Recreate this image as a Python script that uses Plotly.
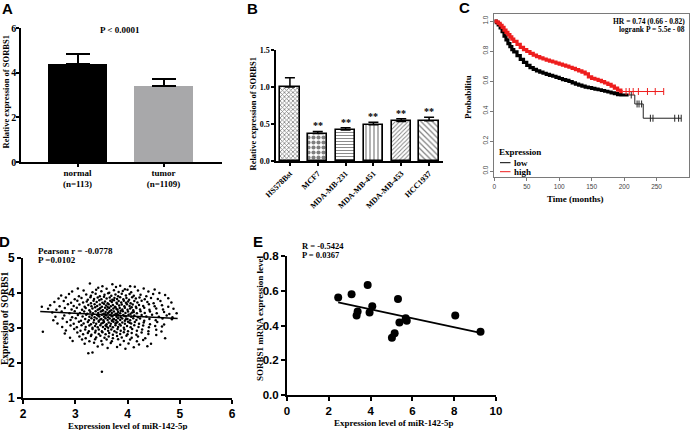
import numpy as np
import plotly.graph_objects as go

W, H = 690, 430
def px(x): return x / W
def py(y): return 1 - y / H

SERIF = "Liberation Serif"
SANS = "Liberation Sans"

# ---------------- Panel A ----------------
a_groups = ["normal<br>(n=113)", "tumor<br>(n=1109)"]
a_means = [4.4, 3.4]
a_err = [0.42, 0.32]
a_colors = ["#000000", "#a8a8aa"]
a_ticks = [0, 2, 4, 6]

# ---------------- Panel B ----------------
b_lines = ["HS578Bst", "MCF7", "MDA-MB-231", "MDA-MB-451", "MDA-MB-453", "HCC1937"]
b_means = [1.0, 0.37, 0.42, 0.49, 0.535, 0.545]
b_err = [0.125, 0.03, 0.03, 0.035, 0.035, 0.045]
b_sig = ["", "**", "**", "**", "**", "**"]
b_shapes = ["x", ".", "-", "|", "/", "\\"]
b_psize = [3, 5, 3, 4, 3, 4]
b_solid = [0.45, 0.55, 0.3, 0.3, 0.3, 0.3]

# ---------------- Panel C (Kaplan-Meier) ----------------
km_low_t = [0, 3, 6, 9, 12, 15, 18, 21, 24, 27, 30, 35, 40, 45, 50, 55, 60, 65, 70, 75, 80, 85, 90,
            95, 100, 105, 110, 115, 120, 125, 130, 135, 140, 145, 150, 155, 160, 165, 170, 175,
            180, 185, 190, 195, 200, 207]
km_low_s = [1.0, 0.99, 0.975, 0.955, 0.93, 0.90, 0.875, 0.85, 0.83, 0.81, 0.795, 0.77, 0.745,
            0.725, 0.705, 0.69, 0.678, 0.668, 0.66, 0.652, 0.645, 0.638, 0.632, 0.625, 0.617,
            0.61, 0.604, 0.597, 0.588, 0.58, 0.573, 0.566, 0.56, 0.556, 0.551, 0.546, 0.542,
            0.537, 0.532, 0.527, 0.521, 0.516, 0.51, 0.507, 0.507, 0.507]
km_low_tail_t = [207, 216.5, 229.5, 288]
km_low_tail_s = [0.507, 0.447, 0.352, 0.352]
km_low_cens = [211, 220, 223, 227, 240.5, 244.5, 278, 284, 288]

km_high_t = [0, 3, 6, 9, 12, 15, 18, 21, 24, 27, 30, 35, 40, 45, 50, 55, 60, 65, 70, 75, 80, 85,
             90, 95, 100, 105, 110, 115, 120, 125, 130, 135, 140, 145, 150, 155, 160, 165, 170,
             175, 180, 185, 190, 195, 198]
km_high_s = [1.0, 0.995, 0.985, 0.972, 0.958, 0.94, 0.925, 0.91, 0.895, 0.88, 0.865, 0.845,
             0.825, 0.81, 0.797, 0.785, 0.773, 0.763, 0.755, 0.747, 0.74, 0.733, 0.727, 0.72,
             0.713, 0.706, 0.699, 0.692, 0.684, 0.676, 0.668, 0.66, 0.648, 0.628, 0.618, 0.612,
             0.604, 0.596, 0.587, 0.578, 0.566, 0.553, 0.54, 0.53, 0.53]
km_high_tail_t = [198, 261]
km_high_tail_s = [0.53, 0.53]
km_high_cens = [203, 208, 214, 222, 236, 248, 261]

# ---------------- Panel D (scatter, n=1109 read approx.) ----------------
d_pts = [
 (3.28,4.27),(3.71,4.25),(3.86,4.21),(4.05,4.19),
 (3.05,4.13),(3.44,4.15),(3.6,4.12),(3.78,4.17),(3.95,4.11),(4.14,4.18),(4.31,4.13),(4.52,4.1),(3.52,4.19),
 (2.94,4.04),(3.16,4.07),(3.33,4.02),(3.5,4.05),(3.65,4.01),(3.74,4.08),(3.83,4.03),(3.91,4.06),(4.07,4.02),
 (4.2,4.07),(4.4,4.04),(4.61,4.0),(3.4,4.09),(4.0,4.09),
 (2.73,3.93),(2.88,3.97),(3.07,3.91),(3.21,3.96),(3.3,3.92),(3.39,3.98),(3.47,3.91),(3.56,3.95),(3.63,3.99),
 (3.69,3.92),(3.77,3.96),(3.82,3.91),(3.89,3.98),(3.97,3.93),(4.04,3.97),(4.12,3.92),(4.25,3.95),(4.36,3.91),
 (4.49,3.97),(4.72,3.94),
 (2.68,3.84),(2.82,3.87),(2.99,3.82),(3.12,3.86),(3.24,3.81),(3.29,3.88),(3.36,3.83),(3.43,3.87),(3.5,3.82),
 (3.55,3.89),(3.6,3.84),(3.66,3.87),(3.71,3.81),(3.75,3.86),(3.8,3.83),(3.86,3.88),(3.92,3.82),(3.98,3.86),
 (4.03,3.81),(4.09,3.88),(4.16,3.84),(4.23,3.87),(4.33,3.82),(4.45,3.86),(4.58,3.83),(4.78,3.85),
 (2.6,3.74),(2.78,3.77),(2.92,3.72),(3.04,3.78),(3.15,3.73),(3.22,3.76),(3.3,3.71),(3.35,3.78),(3.41,3.74),
 (3.46,3.79),(3.52,3.72),(3.57,3.76),(3.62,3.71),(3.67,3.78),(3.7,3.74),(3.74,3.79),(3.79,3.72),(3.83,3.77),
 (3.88,3.73),(3.93,3.78),(3.97,3.72),(4.01,3.76),(4.06,3.71),(4.13,3.77),(4.19,3.73),(4.27,3.78),(4.38,3.74),
 (4.5,3.71),(4.63,3.77),(4.84,3.73),
 (2.36,3.61),(2.52,3.65),(2.7,3.62),(2.86,3.68),(2.97,3.63),(3.08,3.67),(3.18,3.61),(3.25,3.66),(3.31,3.62),
 (3.37,3.68),(3.42,3.63),(3.47,3.67),(3.51,3.61),(3.55,3.69),(3.59,3.64),(3.64,3.68),(3.68,3.62),(3.72,3.66),
 (3.76,3.61),(3.8,3.69),(3.84,3.64),(3.89,3.67),(3.94,3.62),(3.99,3.68),(4.04,3.63),(4.1,3.67),(4.16,3.61),
 (4.22,3.66),(4.3,3.63),(4.41,3.68),(4.52,3.62),(4.66,3.65),(4.78,3.61),(3.62,3.6),
 (2.48,3.55),(2.64,3.52),(2.8,3.57),(2.93,3.53),(3.03,3.58),(3.13,3.52),(3.2,3.57),(3.27,3.51),(3.33,3.56),
 (3.38,3.59),(3.43,3.52),(3.48,3.57),(3.53,3.51),(3.57,3.58),(3.61,3.53),(3.65,3.57),(3.69,3.51),(3.73,3.56),
 (3.77,3.59),(3.81,3.52),(3.85,3.57),(3.9,3.53),(3.95,3.58),(4.0,3.52),(4.05,3.56),(4.11,3.51),(4.17,3.57),
 (4.24,3.53),(4.32,3.58),(4.42,3.52),(4.55,3.56),(4.68,3.53),(4.88,3.55),(3.46,3.54),(3.79,3.54),(4.08,3.59),
 (2.56,3.44),(2.74,3.47),(2.89,3.42),(2.99,3.48),(3.09,3.43),(3.17,3.47),(3.23,3.41),(3.29,3.46),(3.34,3.42),
 (3.39,3.48),(3.44,3.43),(3.49,3.47),(3.54,3.41),(3.58,3.46),(3.62,3.42),(3.66,3.48),(3.7,3.43),(3.74,3.47),
 (3.78,3.41),(3.82,3.46),(3.86,3.42),(3.91,3.48),(3.96,3.43),(4.01,3.47),(4.06,3.41),(4.12,3.46),(4.18,3.42),
 (4.25,3.48),(4.33,3.43),(4.43,3.47),(4.56,3.42),(4.7,3.46),(4.8,3.4),(4.94,3.42),(3.52,3.49),(3.87,3.49),
 (3.64,3.44),(4.09,3.44),
 (2.62,3.32),(2.79,3.36),(2.94,3.31),(3.05,3.37),(3.14,3.33),(3.21,3.38),(3.27,3.32),(3.32,3.36),(3.37,3.31),
 (3.42,3.37),(3.46,3.33),(3.51,3.38),(3.55,3.32),(3.59,3.36),(3.63,3.31),(3.67,3.37),(3.71,3.33),(3.75,3.38),
 (3.79,3.32),(3.83,3.36),(3.87,3.31),(3.92,3.37),(3.97,3.33),(4.02,3.38),(4.07,3.32),(4.13,3.36),(4.2,3.31),
 (4.27,3.37),(4.36,3.33),(4.47,3.38),(4.6,3.32),(4.75,3.36),(4.86,3.31),(3.44,3.35),(3.69,3.35),(3.94,3.34),
 (3.57,3.39),(3.81,3.39),
 (2.58,3.22),(2.76,3.27),(2.91,3.23),(3.01,3.28),(3.11,3.21),(3.19,3.26),(3.26,3.22),(3.31,3.28),(3.36,3.23),
 (3.41,3.27),(3.45,3.21),(3.5,3.26),(3.54,3.22),(3.58,3.28),(3.62,3.23),(3.66,3.27),(3.7,3.21),(3.74,3.26),
 (3.78,3.22),(3.82,3.28),(3.86,3.23),(3.9,3.27),(3.95,3.21),(4.0,3.26),(4.05,3.22),(4.11,3.28),(4.17,3.23),
 (4.24,3.27),(4.32,3.21),(4.42,3.26),(4.54,3.22),(4.67,3.27),(4.85,3.25),(3.48,3.24),(3.72,3.24),(3.97,3.25),
 (2.66,3.13),(2.84,3.17),(2.97,3.12),(3.07,3.18),(3.16,3.13),(3.24,3.17),(3.3,3.11),(3.35,3.16),(3.4,3.12),
 (3.45,3.18),(3.5,3.13),(3.55,3.17),(3.6,3.11),(3.64,3.16),(3.68,3.12),(3.73,3.18),(3.77,3.13),(3.81,3.17),
 (3.85,3.11),(3.9,3.16),(3.95,3.12),(4.01,3.18),(4.07,3.13),(4.14,3.17),(4.22,3.12),(4.31,3.16),(4.43,3.11),
 (4.57,3.17),(4.7,3.1),(3.53,3.15),(3.79,3.15),(4.04,3.15),
 (2.75,3.03),(2.91,3.07),(3.03,3.02),(3.12,3.08),(3.2,3.03),(3.27,3.07),(3.33,3.01),(3.38,3.06),(3.43,3.02),
 (3.48,3.08),(3.53,3.03),(3.58,3.07),(3.63,3.01),(3.67,3.06),(3.72,3.02),(3.77,3.08),(3.82,3.03),(3.87,3.07),
 (3.93,3.01),(3.99,3.06),(4.06,3.02),(4.13,3.08),(4.21,3.03),(4.3,3.07),(4.41,3.02),(4.53,3.06),(4.66,3.04),
 (3.6,3.04),
 (2.38,2.89),(2.82,2.93),(2.98,2.97),(3.1,2.92),(3.19,2.96),(3.26,2.91),(3.33,2.97),(3.39,2.92),(3.45,2.96),
 (3.51,2.91),(3.57,2.97),(3.63,2.92),(3.69,2.96),(3.75,2.91),(3.81,2.97),(3.87,2.92),(3.94,2.96),(4.01,2.91),
 (4.09,2.97),(4.18,2.92),(4.28,2.96),(4.4,2.91),(4.55,2.95),(4.65,2.9),
 (2.8,2.84),(3.04,2.87),(3.15,2.82),(3.24,2.86),(3.31,2.81),(3.38,2.87),(3.45,2.83),(3.52,2.88),(3.58,2.82),
 (3.65,2.86),(3.72,2.81),(3.79,2.87),(3.86,2.83),(3.93,2.88),(4.0,2.82),(4.08,2.86),(4.17,2.81),(4.27,2.87),
 (4.4,2.83),(4.55,2.8),
 (2.9,2.72),(3.08,2.76),(3.2,2.71),(3.3,2.77),(3.4,2.73),(3.48,2.78),(3.56,2.72),(3.64,2.76),(3.72,2.71),
 (3.8,2.77),(3.89,2.73),(3.98,2.78),(4.08,2.72),(4.2,2.76),(4.34,2.71),(4.72,2.71),
 (2.95,2.63),(3.13,2.67),(3.27,2.62),(3.38,2.68),(3.5,2.63),(3.6,2.67),(3.7,2.62),(3.82,2.68),(3.93,2.63),
 (4.05,2.67),(4.18,2.62),(4.3,2.66),
 (3.18,2.55),(3.36,2.58),(3.52,2.53),(3.68,2.57),(3.86,2.52),(4.02,2.56),(4.22,2.53),(4.45,2.55),
 (3.43,2.47),(3.62,2.43),(3.8,2.46),(3.96,2.41),(4.12,2.45),(4.38,2.48),
 (3.25,2.28),(3.33,2.3),(3.51,1.75),
]
d_x = [p[0] for p in d_pts]
d_y = [p[1] for p in d_pts]
d_fit_slope = -0.075
d_fit_intercept = 3.645
d_fit_range = [2.33, 4.96]

# ---------------- Panel E ----------------
e_x = [2.45, 3.09, 3.33, 3.38, 3.86, 3.95, 4.08, 5.02, 5.15, 5.31, 5.38, 5.68, 5.73, 8.05, 9.26]
e_y = [0.561, 0.58, 0.457, 0.48, 0.633, 0.475, 0.511, 0.329, 0.356, 0.553, 0.417, 0.442, 0.427, 0.457, 0.364]

fig = go.Figure()

# A
fig.add_trace(go.Bar(
    x=[0, 1], y=a_means, width=0.686, xaxis="x", yaxis="y",
    marker=dict(color=a_colors, line=dict(width=0)),
    error_y=dict(type="data", symmetric=False, array=a_err, arrayminus=[0, 0],
                 color="black", thickness=2, width=12)))

# B
fig.add_trace(go.Bar(
    x=list(range(len(b_lines))), y=b_means, width=0.7, xaxis="x2", yaxis="y2",
    marker=dict(color="white", line=dict(color="black", width=1.6),
                pattern=dict(shape=b_shapes, size=b_psize, solidity=b_solid,
                             fgcolor="black", bgcolor="white")),
    error_y=dict(type="data", symmetric=False, array=b_err, arrayminus=[0] * 6,
                 color="black", thickness=1.5, width=5)))

# C
def step_at(ts, ss, t):
    val = ss[0]
    for ti, si in zip(ts, ss):
        if t >= ti:
            val = si
    return val

RED = "#ee1d1d"
fig.add_trace(go.Scatter(x=km_low_t, y=km_low_s, mode="lines", line=dict(color="black", width=3.2, shape="hv"),
                         xaxis="x3", yaxis="y3"))
fig.add_trace(go.Scatter(x=km_low_tail_t, y=km_low_tail_s, mode="lines", line=dict(color="#222", width=1, shape="hv"),
                         xaxis="x3", yaxis="y3"))
fig.add_trace(go.Scatter(x=km_low_cens, y=[step_at(km_low_tail_t, km_low_tail_s, t) for t in km_low_cens],
                         mode="markers", marker=dict(symbol="line-ns-open", size=5, color="#222",
                                                     line=dict(color="#222", width=1)),
                         xaxis="x3", yaxis="y3"))
fig.add_trace(go.Scatter(x=km_high_t, y=km_high_s, mode="lines", line=dict(color=RED, width=3.2, shape="hv"),
                         xaxis="x3", yaxis="y3"))
fig.add_trace(go.Scatter(x=km_high_tail_t, y=km_high_tail_s, mode="lines", line=dict(color=RED, width=1, shape="hv"),
                         xaxis="x3", yaxis="y3"))
fig.add_trace(go.Scatter(x=km_high_cens, y=[step_at(km_high_tail_t, km_high_tail_s, t) for t in km_high_cens],
                         mode="markers", marker=dict(symbol="line-ns-open", size=5, color=RED,
                                                     line=dict(color=RED, width=1)),
                         xaxis="x3", yaxis="y3"))

# D
fig.add_trace(go.Scatter(x=d_x, y=d_y, mode="markers", marker=dict(color="black", size=2.5),
                         xaxis="x4", yaxis="y4"))
fig.add_trace(go.Scatter(x=d_fit_range, y=[d_fit_intercept + d_fit_slope * v for v in d_fit_range],
                         mode="lines", line=dict(color="black", width=1.6), xaxis="x4", yaxis="y4"))

# E
e_slope, e_int = np.polyfit(e_x, e_y, 1)
e_fx = [min(e_x), max(e_x)]
fig.add_trace(go.Scatter(x=e_x, y=e_y, mode="markers", marker=dict(color="black", size=8),
                         xaxis="x5", yaxis="y5"))
fig.add_trace(go.Scatter(x=e_fx, y=[e_int + e_slope * v for v in e_fx], mode="lines",
                         line=dict(color="black", width=1.6), xaxis="x5", yaxis="y5"))

def ax(domain, rng, **kw):
    d = dict(domain=domain, range=rng, showline=True, linecolor="black", linewidth=1.5,
             ticks="outside", ticklen=4, tickwidth=1.5, tickcolor="black", automargin=False,
             ticklabeloverflow="allow", showgrid=False, zeroline=False, fixedrange=True)
    d.update(kw)
    return d

serif_b = lambda s: dict(family=SERIF, size=s, color="black", weight="bold")
sans_b = lambda s: dict(family=SANS, size=s, color="black", weight="bold")

layout = dict(
    width=W, height=H, margin=dict(l=0, r=0, t=0, b=0, pad=0, autoexpand=False),
    paper_bgcolor="white", plot_bgcolor="white", showlegend=False, bargap=0,
    xaxis=ax([px(21), px(222)], [-0.657, 1.68], anchor="y", tickvals=[0, 1], ticktext=a_groups,
             tickfont=serif_b(9), ticklen=3, ticklabelstandoff=-2),
    yaxis=ax([py(162), py(28)], [0, 6], anchor="x", tickvals=a_ticks, tickfont=serif_b(10),
             ticklen=3, ticklabelstandoff=-2),
    xaxis2=ax([px(276), px(443)], [-0.5, 5.5], anchor="y2", tickvals=list(range(6)), ticktext=b_lines,
              tickangle=-45, tickfont=serif_b(8), ticklen=3),
    yaxis2=ax([py(161), py(50)], [0, 1.5], anchor="x2", tickvals=[0, 0.5, 1.0, 1.5], tickformat=".1f",
              tickfont=serif_b(8), ticklen=3),
    xaxis3=ax([px(494.3), px(689)], [0, 300], anchor="y3", tickvals=[0, 50, 100, 150, 200, 250],
              mirror=True, linecolor="#7a7a7a", linewidth=1, tickcolor="#7a7a7a", tickwidth=1, ticklen=3,
              tickfont=dict(family=SANS, size=6.5, color="#444")),
    yaxis3=ax([py(177.3), py(14.3)], [-0.042, 1.045], anchor="x3", tickvals=[0, 0.2, 0.4, 0.6, 0.8, 1.0],
              tickformat=".1f", tickangle=-90, mirror=True, linecolor="#7a7a7a", linewidth=1,
              tickcolor="#7a7a7a", tickwidth=1, ticklen=3,
              tickfont=dict(family=SANS, size=6.5, color="#444")),
    xaxis4=ax([px(23), px(232)], [2, 6], anchor="y4", dtick=1, linewidth=2, tickwidth=2,
              tickfont=sans_b(12)),
    yaxis4=ax([py(398), py(258)], [1, 5], anchor="x4", dtick=1, linewidth=2, tickwidth=2,
              tickfont=sans_b(12)),
    xaxis5=ax([px(287), px(496)], [0, 10], anchor="y5", dtick=2, linewidth=2, tickwidth=2,
              tickfont=sans_b(11.5)),
    yaxis5=ax([py(395), py(256)], [0, 0.8], anchor="x5", dtick=0.2, tickformat=".1f", linewidth=2,
              tickwidth=2, tickfont=sans_b(11.5)),
)

anns = []
def ann(text, x, y, font, xanchor="center", yanchor="middle", angle=0, **kw):
    d = dict(text=text, x=px(x), y=py(y), xref="paper", yref="paper", showarrow=False,
             xanchor=xanchor, yanchor=yanchor, textangle=angle, font=font)
    d.update(kw)
    anns.append(d)

# panel letters
for letter, lx, ly in [("A", 7.5, 8.5), ("B", 252, 9), ("C", 464, 8), ("D", 4.5, 241), ("E", 258, 241)]:
    ann(letter, lx, ly, sans_b(15))

# A texts
ann("Relative expression of SORBS1", 5.5, 92, serif_b(8.5), angle=-90)
ann("P < 0.0001", 120, 30, serif_b(9))

# B texts
ann("Relative expression of SORBS1", 252, 114.5, serif_b(8.5), angle=-90)
for i, s in enumerate(b_sig):
    if s:
        anns.append(dict(text=s, x=i, y=b_means[i] + b_err[i], xref="x2", yref="y2", showarrow=False,
                         xanchor="center", yanchor="bottom", yshift=-2, font=serif_b(10)))

# C texts
ann("Probabilitu", 468, 97, serif_b(9), angle=-90)
ann("Time (months)", 575, 199, serif_b(9))
ann("HR = 0.74 (0.66 - 0.82)", 687, 21.5, serif_b(7.5), xanchor="right")
ann("logrank P = 5.5e - 08", 687, 29.5, serif_b(7.5), xanchor="right")
ann("Expression", 497, 151.7, serif_b(9), xanchor="left")
ann("low", 511.5, 162.7, serif_b(9), xanchor="left")
ann("high", 511.5, 171.7, serif_b(9), xanchor="left")

# D texts
ann("Pearson r = -0.0778", 36, 251, serif_b(9), xanchor="left")
ann("P =0.0102", 36, 259.5, serif_b(9), xanchor="left")
ann("Expression of SORBS1", 5, 318, serif_b(9.5), angle=-90)
ann("Expression level of miR-142-5p", 128, 425.5, serif_b(9))

# E texts
ann("R = -0.5424", 300, 246, serif_b(8.5), xanchor="left")
ann("P = 0.0367", 300, 255, serif_b(8.5), xanchor="left")
ann("SORBS1 mRNA expression level", 260, 318, serif_b(9), angle=-90)
ann("Expression level of miR-142-5p", 394, 423.3, serif_b(9))

layout["annotations"] = anns
layout["shapes"] = [
    dict(type="line", xref="paper", yref="paper", x0=px(500), x1=px(510.5), y0=py(162.7), y1=py(162.7),
         line=dict(color="black", width=1)),
    dict(type="line", xref="paper", yref="paper", x0=px(500), x1=px(510.5), y0=py(171.7), y1=py(171.7),
         line=dict(color=RED, width=1)),
]

fig.update_layout(**layout)
fig.write_html("out.html", config={"displayModeBar": False},
               post_script="document.body.style.margin='0';document.body.style.padding='0';"
                           "document.body.style.overflow='hidden';")
